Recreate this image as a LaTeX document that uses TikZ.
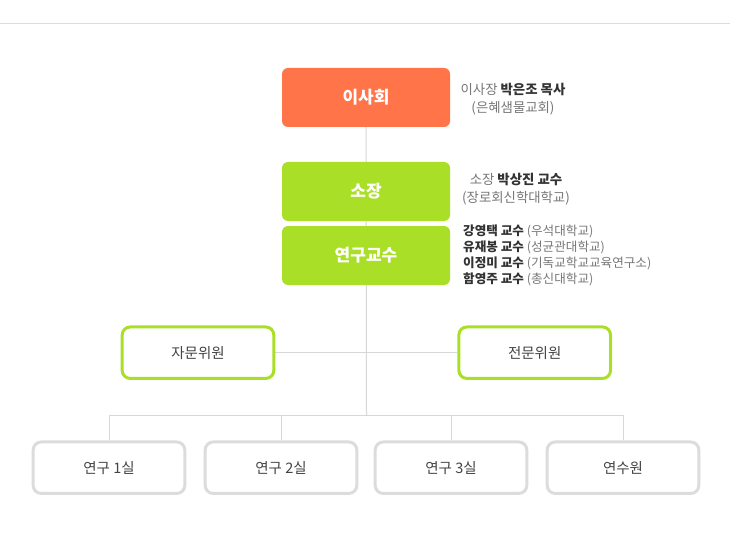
\documentclass[tikz,border=0pt]{standalone}
\usepackage{fontspec}
\setmainfont{Noto Sans CJK KR}
\usetikzlibrary{backgrounds}
\definecolor{orangebox}{HTML}{FF7449}
\definecolor{greenbox}{HTML}{AADF28}
\definecolor{graybord}{HTML}{DCDCDC}
\definecolor{connline}{HTML}{D7D7D7}
\definecolor{txtdark}{HTML}{444444}
\definecolor{txtgray}{HTML}{777777}
\definecolor{txtbold}{HTML}{333333}
\begin{document}
\begin{tikzpicture}[x=1pt,y=-1pt,
  topbox/.style={rectangle, rounded corners=6pt, minimum width=168pt, minimum height=59pt, inner sep=0pt, text=white, font=\bfseries\fontsize{17}{17}\selectfont},
  orangefill/.style={topbox, fill=orangebox},
  greenfill/.style={topbox, fill=greenbox},
  outbox/.style={rectangle, rounded corners=8pt, draw, line width=3pt, minimum width=151.6pt, minimum height=51.5pt, inner sep=0pt, fill=white, text=txtdark, font=\fontsize{14.5}{14.5}\selectfont},
  greenout/.style={outbox, draw=greenbox},
  grayout/.style={outbox, draw=graybord},
  conn/.style={draw=connline, line width=1pt},
  sidetext/.style={inner sep=0pt, text=txtgray, align=center, font=\fontsize{13.4}{17.5}\selectfont},
  listtext/.style={inner sep=0pt, anchor=west, text=txtgray, font=\fontsize{12.6}{12.6}\selectfont}
]
\useasboundingbox (0,0) rectangle (730,556);
\coordinate (topL) at (0,23.5);
\coordinate (topR) at (730,23.5);

% top boxes
\node[orangefill] (isa) at (366,97.5) {이사회};
\node[greenfill] (sojang) at (366,191.5) {소장};
\node[greenfill] (prof) at (366,255.5) {연구교수};

% middle boxes
\node[greenout] (jamun) at (198,352.7) {자문위원};
\node[greenout] (jeonmun) at (534.7,352.7) {전문위원};

% bottom boxes
\node[grayout] (r1) at (109,467.7) {연구 1실};
\node[grayout] (r2) at (281,467.7) {연구 2실};
\node[grayout] (r3) at (451,467.7) {연구 3실};
\node[grayout] (r4) at (623,467.7) {연수원};

% bus coordinates
\coordinate (bus) at (366.5,415.3);
\coordinate (busL) at (109,415.3);
\coordinate (busR) at (623,415.3);
\coordinate (busA) at (281,415.3);
\coordinate (busB) at (451,415.3);

\begin{scope}[on background layer]
\fill[white] (0,0) rectangle (730,556);
\draw[draw=graybord, line width=1pt] (topL) -- (topR);
\draw[conn] (isa.south) -- (bus);
\draw[conn] (jamun.east) -- (jeonmun.west);
\draw[conn] (busL) -- (busR);
\draw[conn] (busL) -- (r1.north);
\draw[conn] (busA) -- (r2.north);
\draw[conn] (busB) -- (r3.north);
\draw[conn] (busR) -- (r4.north);
\end{scope}

% side texts
\node[sidetext] (isatext) at (513,99) {이사장 {\color{txtbold}\bfseries 박은조 목사}\\(은혜샘물교회)};
\node[sidetext] (sojangtext) at (516,189.2) {소장 {\color{txtbold}\bfseries 박상진 교수}\\(장로회신학대학교)};
\node[listtext] (p1) at (463,231.5) {{\color{txtbold}\bfseries 강영택 교수} (우석대학교)};
\node[listtext] (p2) at (463,247.3) {{\color{txtbold}\bfseries 유재봉 교수} (성균관대학교)};
\node[listtext] (p3) at (463,263.1) {{\color{txtbold}\bfseries 이정미 교수} (기독교학교교육연구소)};
\node[listtext] (p4) at (463,279) {{\color{txtbold}\bfseries 함영주 교수} (총신대학교)};
\end{tikzpicture}
\end{document}
